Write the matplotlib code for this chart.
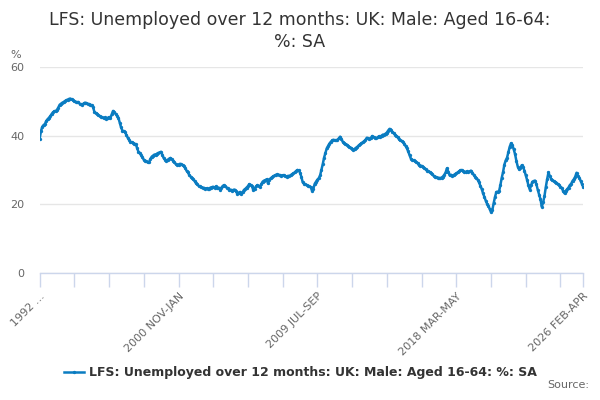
import matplotlib
matplotlib.use("Agg")
import matplotlib.pyplot as plt

# one value per rolling quarter, starting 1992 MAR-MAY, ending 2026 FEB-APR
values = [
    39.0, 41.3, 42.6, 43.1, 43.4, 44.3, 44.8, 45.2, 45.7, 46.3, 46.8, 47.1,
    47.2, 47.5, 48.2, 49.0, 49.3, 49.6, 49.8, 50.1, 50.3, 50.5, 50.7, 50.8,
    50.6, 50.3, 50.0, 49.9, 49.7, 49.8, 49.3, 49.1, 49.0, 49.4, 49.6, 49.5,
    49.3, 49.2, 49.0, 48.9, 48.3, 47.0, 46.6, 46.4, 46.0, 45.7, 45.5, 45.3,
    45.1, 45.3, 45.0, 45.2, 45.4, 45.1, 46.2, 47.2, 46.8, 46.3, 45.8, 45.2,
    43.8, 42.4, 41.5, 41.3, 41.0, 40.2, 39.4, 38.8, 38.2, 38.1, 37.9, 37.7,
    37.5, 36.4, 35.3, 35.0, 34.3, 33.7, 33.0, 32.7, 32.5, 32.2, 32.3, 33.3,
    33.9, 34.2, 34.5, 34.4, 34.8, 35.0, 35.1, 35.3, 34.3, 33.4, 33.0, 32.7,
    33.0, 33.3, 33.5, 33.1, 32.7, 32.2, 31.7, 31.5, 31.6, 31.8, 31.7, 31.4,
    31.1, 30.6, 29.8, 29.3, 28.6, 28.1, 27.7, 27.3, 26.8, 26.2, 25.8, 25.4,
    25.2, 25.0, 24.9, 24.8, 24.6, 24.7, 24.5, 24.6, 24.9, 25.0, 25.1, 24.9,
    25.2, 24.8, 24.9, 24.3, 24.8, 25.3, 25.6, 25.2, 24.9, 24.7, 24.1, 24.3,
    24.0, 24.2, 24.3, 23.8, 23.1, 23.4, 23.6, 22.9, 23.5, 24.2, 24.5, 24.9,
    25.3, 25.9, 25.6, 25.3, 24.1, 24.6, 25.2, 25.6, 25.3, 25.1, 25.9, 26.6,
    26.9, 27.0, 27.3, 26.1, 27.2, 27.6, 27.9, 28.2, 28.4, 28.6, 28.7, 28.6,
    28.5, 28.3, 28.5, 28.4, 28.2, 28.1, 28.3, 28.2, 28.5, 28.8, 29.0, 29.3,
    29.7, 30.0, 29.9, 29.2, 28.0, 26.4, 26.0, 25.8, 25.6, 25.4, 25.2, 25.0,
    23.9, 24.6, 26.0, 26.6, 27.2, 27.6, 28.4, 30.0, 31.7, 33.6, 35.0, 36.3,
    37.0, 37.7, 38.2, 38.6, 38.8, 38.7, 38.6, 38.8, 39.2, 39.7, 39.0, 38.2,
    37.8, 37.6, 37.4, 37.0, 36.7, 36.5, 36.2, 35.9, 36.2, 36.5, 36.8, 37.2,
    37.5, 37.8, 38.1, 38.4, 38.8, 39.4, 39.2, 38.9, 39.3, 39.9, 39.6, 39.4,
    39.3, 39.5, 39.8, 39.7, 40.0, 40.3, 40.2, 40.6, 40.9, 41.5, 42.0, 41.6,
    41.1, 40.8, 40.3, 40.0, 39.6, 39.0, 38.6, 38.5, 38.2, 37.7, 37.0, 36.3,
    35.4, 34.3, 33.3, 33.0, 32.8, 32.5, 32.3, 32.0, 31.4, 31.3, 31.2, 30.9,
    30.6, 30.2, 29.8, 29.7, 29.4, 29.2, 28.8, 28.3, 28.1, 27.9, 27.8, 27.7,
    27.6, 27.8, 28.1, 28.6, 29.3, 30.5, 29.5, 28.4, 28.6, 28.3, 28.5, 28.8,
    29.0, 29.3, 29.6, 29.9, 30.0, 29.7, 29.4, 29.5, 29.6, 29.4, 29.6, 29.8,
    29.2, 28.6, 28.1, 27.6, 27.2, 26.4, 25.4, 24.5, 23.2, 22.2, 21.1, 20.2,
    19.6, 18.6, 17.7, 18.4, 20.4, 22.2, 23.6, 23.7, 23.8, 25.6, 27.7, 29.4,
    31.6, 32.8, 33.6, 35.2, 36.8, 37.8, 37.2, 36.0, 34.6, 32.6, 31.0, 30.2,
    30.6, 31.4, 30.9, 29.8, 28.5, 27.1, 25.5, 24.3, 25.6, 26.6, 26.8, 26.9,
    25.8, 24.2, 22.8, 21.5, 19.3, 20.6, 22.4, 25.0, 27.3, 29.3, 28.2, 27.4,
    27.0, 26.7, 26.5, 26.3, 25.9, 25.6, 25.1, 24.8, 23.8, 23.2, 24.0, 24.4,
    24.9, 25.6, 26.0, 26.8, 27.3, 28.0, 29.2, 28.3, 27.8, 26.9, 26.0, 25.1,
]

tick_step = 26
label_ticks = {0: "1992 ...", 104: "2000 NOV-JAN", 208: "2009 JUL-SEP",
               312: "2018 MAR-MAY", 407: "2026 FEB-APR"}
y_ticks = [0, 20, 40, 60]

title = "LFS: Unemployed over 12 months: UK: Male: Aged 16-64:\n%: SA"
series_name = "LFS: Unemployed over 12 months: UK: Male: Aged 16-64: %: SA"

line_col = "#0a7cc1"
axis_col = "#ccd6eb"
grid_col = "#e6e6e6"
text_col = "#666666"

fig = plt.figure(figsize=(6, 4), dpi=100)
ax = fig.add_axes([0.066, 0.3175, 0.906, 0.515])

x = list(range(len(values)))
ln, = ax.plot(x, values, color=line_col, lw=1.8, marker="o", ms=2.4,
              mew=0, zorder=3)

ax.set_xlim(0, len(values) - 1)
ax.set_ylim(0, 60)
ax.set_yticks(y_ticks)
ax.yaxis.grid(True, color=grid_col, lw=1)
ax.set_axisbelow(True)
for s in ["top", "right", "left"]:
    ax.spines[s].set_visible(False)
ax.spines["bottom"].set_color(axis_col)
ax.spines["bottom"].set_linewidth(1)
ax.tick_params(axis="y", length=0, pad=11, labelsize=8, labelcolor=text_col)

ticks = list(range(0, len(values), tick_step)) + [len(values) - 1]
ax.set_xticks(ticks)
ax.set_xticklabels([label_ticks.get(t, "") for t in ticks], rotation=45,
                   ha="right", rotation_mode="anchor", fontsize=8,
                   color=text_col)
ax.tick_params(axis="x", length=10, color=axis_col, width=1, pad=3)

ax.text(-0.054, 1.035, "%", transform=ax.transAxes, fontsize=8,
        color=text_col, ha="left", va="bottom")

fig.text(0.5, 0.972, title, ha="center", va="top", fontsize=12.5,
         color="#333333", linespacing=1.3)

leg = fig.legend([ln], [series_name], loc="center", bbox_to_anchor=(0.5, 0.068),
                 frameon=False, handlelength=1.6, handletextpad=0.4,
                 prop={"size": 9, "weight": "bold"})
for t in leg.get_texts():
    t.set_color("#333333")

fig.text(0.982, 0.025, "Source:", ha="right", va="bottom", fontsize=8,
         color=text_col)

fig.savefig("out.png", dpi=100)
